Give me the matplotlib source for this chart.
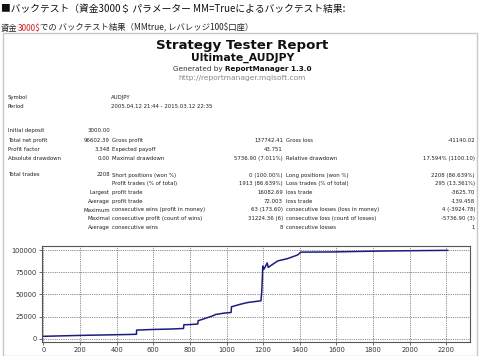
import matplotlib
matplotlib.use('Agg')
import matplotlib.pyplot as plt
from matplotlib.patches import Rectangle

plt.rcParams['font.family'] = ['DejaVu Sans', 'Noto Sans CJK JP']
JP = ['Noto Sans CJK JP', 'DejaVu Sans']

# header texts
header1 = "■バックテスト（資金3000＄ パラメーター MM=Trueによるバックテスト結果:"
header2 = ["資金", "3000$", "での バックテスト結果（MMtrue, レバレッジ100$口座）"]

title = "Strategy Tester Report"
subtitle = "Ultimate_AUDJPY"
generated = ["Generated by ", "ReportManager 1.3.0"]
url = "http://reportmanager.mqlsoft.com"

# report table
info_rows = [("Symbol", "AUDJPY"),
             ("Period", "2005.04.12 21:44 - 2015.03.12 22:35")]

stat_rows = [
    ("Initial deposit", "3000.00", "", "", "", ""),
    ("Total net profit", "96602.39", "Gross profit", "137742.41", "Gross loss", "-41140.02"),
    ("Profit factor", "3.348", "Expected payoff", "43.751", "", ""),
    ("Absolute drawdown", "0.00", "Maximal drawdown", "5736.90 (7.011%)", "Relative drawdown", "17.594% (1100.10)"),
]

trade_rows = [
    ("Total trades", "2208", "Short positions (won %)", "0 (100.00%)", "Long positions (won %)", "2208 (86.639%)"),
    ("", "", "Profit trades (% of total)", "1913 (86.639%)", "Loss trades (% of total)", "295 (13.361%)"),
    ("", "Largest", "profit trade", "16082.69", "loss trade", "-3625.70"),
    ("", "Average", "profit trade", "72.003", "loss trade", "-139.458"),
    ("", "Maximum", "consecutive wins (profit in money)", "63 (173.60)", "consecutive losses (loss in money)", "4 (-3924.78)"),
    ("", "Maximal", "consecutive profit (count of wins)", "31224.36 (6)", "consecutive loss (count of losses)", "-5736.90 (3)"),
    ("", "Average", "consecutive wins", "8", "consecutive losses", "1"),
]

# balance curve
trades = [0, 200, 400, 460, 508, 509, 600, 700, 765, 767, 800, 843, 845, 925, 940,
          988, 1025, 1027, 1079, 1116, 1188, 1192, 1194, 1198, 1205, 1222, 1228,
          1279, 1333, 1388, 1406, 1570, 1600, 1800, 2000, 2208]
balance = [3000, 4000, 4800, 5000, 5300, 10000, 10700, 11200, 11800, 16000, 16200,
           16800, 20500, 26000, 27500, 29100, 29800, 36200, 39200, 41000, 42900,
           52000, 60000, 82000, 78500, 85500, 80500, 87700, 90300, 94400, 97600,
           97800, 97900, 98700, 99200, 99602]

W, H = 480, 356
fig = plt.figure(figsize=(W / 100, H / 100), dpi=100)
fig.patch.set_facecolor('white')


def fx(x):
    return x / W


def fy(y):
    return 1 - y / H


renderer = fig.canvas.get_renderer()


def txt(x, y, s, **kw):
    kw.setdefault('va', 'center')
    return fig.text(fx(x), fy(y), s, **kw)


def run(x, y, parts, **kw):
    # write text pieces one after another
    for s, extra in parts:
        opts = dict(kw)
        opts.update(extra)
        t = txt(x, y, s, **opts)
        x = t.get_window_extent(renderer).x1
    return x


# page header
txt(1, 9, header1, family=JP, fontsize=7.0, color='#111111')
run(1, 28, [(header2[0], {}), (header2[1], {'color': '#d02020'}), (header2[2], {})],
    family=JP, fontsize=6.0, color='#222222')

# report box
fig.patches.append(Rectangle((fx(3), 0), fx(474), fy(33), transform=fig.transFigure,
                             fill=False, edgecolor='#c8c8c8', linewidth=1.0))

txt(242, 45, title, ha='center', fontsize=9.6, fontweight='bold', color='#111111')
txt(243, 58, subtitle, ha='center', fontsize=7.8, fontweight='bold', color='#111111')
t1 = txt(0, 69, generated[0], fontsize=5.2, color='#333333')
t2 = txt(0, 69, generated[1], fontsize=5.2, fontweight='bold', color='#111111')
w1 = t1.get_window_extent(renderer).width
w2 = t2.get_window_extent(renderer).width
x0 = 242 - (w1 + w2) / 2
t1.set_x(fx(x0))
t2.set_x(fx(x0 + w1))
txt(242, 78, url, ha='center', fontsize=5.4, color='#888888')

fs = 3.85
col = '#222222'
for i, (lab, val) in enumerate(info_rows):
    y = 97 + i * 10
    txt(8, y, lab, fontsize=fs, color=col)
    txt(111, y, val, fontsize=fs, color=col)

for i, (l1, v1, l2, v2, l3, v3) in enumerate(stat_rows):
    y = 131 + i * 9.3
    txt(8, y, l1, fontsize=fs, color=col)
    txt(110, y, v1, ha='right', fontsize=fs, color=col)
    txt(112, y, l2, fontsize=fs, color=col)
    txt(283, y, v2, ha='right', fontsize=fs, color=col)
    txt(286, y, l3, fontsize=fs, color=col)
    txt(475, y, v3, ha='right', fontsize=fs, color=col)

for i, (l1, v1, l2, v2, l3, v3) in enumerate(trade_rows):
    y = 175 + i * 8.75
    txt(8, y, l1, fontsize=fs, color=col)
    txt(110, y, v1, ha='right', fontsize=fs, color=col)
    txt(112, y, l2, fontsize=fs, color=col)
    txt(283, y, v2, ha='right', fontsize=fs, color=col)
    txt(286, y, l3, fontsize=fs, color=col)
    txt(475, y, v3, ha='right', fontsize=fs, color=col)

# balance chart
ax = fig.add_axes([fx(42), fy(342), fx(470 - 42), (342 - 246) / H])
ax.plot(trades, balance, color='#1c1c80', linewidth=1.1)
ax.set_xlim(-8, 2330)
ax.set_ylim(-3400, 104500)
ax.set_xticks(range(0, 2201, 200))
ax.set_yticks([0, 25000, 50000, 75000, 100000])
ax.grid(True, color='#666666', linestyle=(0, (1, 1.2)), linewidth=0.6)
for sp in ax.spines.values():
    sp.set_color('#555555')
    sp.set_linewidth(0.8)
ax.tick_params(labelsize=4.8, labelcolor='#333333', color='#555555', length=2,
               width=0.6, pad=1.5)

fig.savefig('out.png', dpi=100)
